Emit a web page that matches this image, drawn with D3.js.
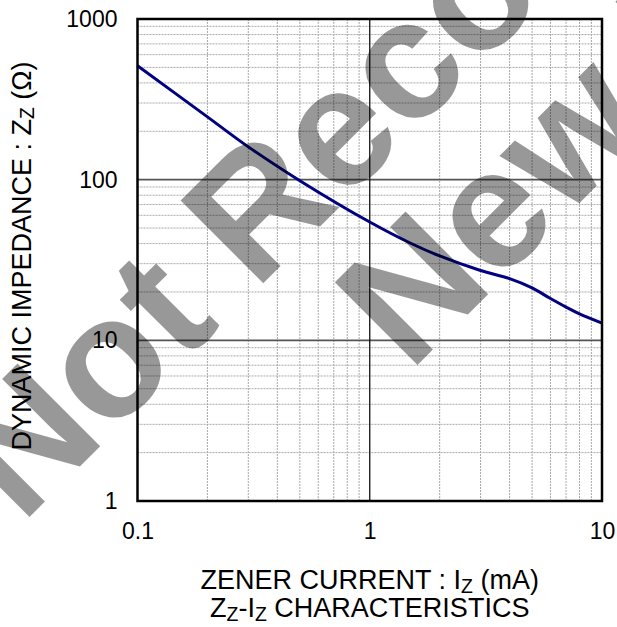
<!DOCTYPE html>
<html><head><meta charset="utf-8">
<script src="https://cdn.jsdelivr.net/npm/d3@7"></script>
<style>
body{margin:0;background:#fff}
svg{display:block}
text{font-family:"Liberation Sans",Arial,Helvetica,sans-serif}
</style>
</head><body>
<svg id="chart" width="617" height="627"></svg>
<script>
// ---- data ----
const currentMA    = [0.1, 0.2, 0.3, 0.5,  1,    1.5,  2,    3,    4,    5,    6,    7,    8,    10];
const impedanceOhm = [512, 246, 160, 98.6, 54.5, 40.2, 33.5, 27.2, 24.2, 21.2, 18.2, 16.1, 14.6, 12.8];
const xTickValues = [0.1, 1, 10];
const xTickLabels = ["0.1", "1", "10"];
const yTickValues = [1, 10, 100, 1000];
const yTickLabels = ["1", "10", "100", "1000"];
const watermarkLines = ["Not Recommended for", "New Designs"];

const svg = d3.select("#chart");
const L = 137.5, R = 602, T = 19, B = 501;
const x = d3.scaleLog().domain([0.1, 10]).range([L, R]);
const y = d3.scaleLog().domain([1, 1000]).range([B, T]);

const isDecade = v => Math.abs(Math.log10(v) - Math.round(Math.log10(v))) < 1e-9;

// minor grid
const g = svg.append("g");
g.selectAll(".vx").data(x.ticks().filter(v => !isDecade(v))).join("line")
  .attr("x1", d => x(d)).attr("x2", d => x(d)).attr("y1", T).attr("y2", B)
  .attr("stroke", "#a8a8a8").attr("stroke-width", 1).attr("stroke-dasharray", "2,1");
g.selectAll(".hy").data(y.ticks().filter(v => !isDecade(v))).join("line")
  .attr("y1", d => y(d)).attr("y2", d => y(d)).attr("x1", L).attr("x2", R)
  .attr("stroke", "#a8a8a8").attr("stroke-width", 1).attr("stroke-dasharray", "2,1");

// major grid
g.selectAll(".mh").data(yTickValues.filter(v => v > 1 && v < 1000)).join("line")
  .attr("y1", d => y(d)).attr("y2", d => y(d)).attr("x1", L).attr("x2", R)
  .attr("stroke", "#555").attr("stroke-width", 1.6);
g.selectAll(".mv").data(xTickValues.filter(v => v > 0.1 && v < 10)).join("line")
  .attr("x1", d => x(d)).attr("x2", d => x(d)).attr("y1", T).attr("y2", B)
  .attr("stroke", "#111").attr("stroke-width", 1.3);

// curve
const line = d3.line().x(d => x(d[0])).y(d => y(d[1])).curve(d3.curveCatmullRom.alpha(0.5));
svg.append("path").datum(currentMA.map((c, i) => [c, impedanceOhm[i]]))
  .attr("d", line).attr("fill", "none").attr("stroke", "#000080").attr("stroke-width", 3);

// frame
svg.append("rect").attr("x", L).attr("y", T).attr("width", R - L).attr("height", B - T)
  .attr("fill", "none").attr("stroke", "#000").attr("stroke-width", 2.5);

// axes
const yAxis = d3.axisLeft(y).tickValues(yTickValues).tickSize(0).tickPadding(20)
  .tickFormat((d, i) => yTickLabels[i]);
const ya = svg.append("g").attr("transform", `translate(${L},0)`).call(yAxis);
ya.select(".domain").remove();
ya.selectAll("text").attr("font-size", 23).attr("fill", "#000").attr("font-family", null);

const xAxis = d3.axisBottom(x).tickValues(xTickValues).tickSize(0).tickPadding(22)
  .tickFormat((d, i) => xTickLabels[i]);
const xa = svg.append("g").attr("transform", `translate(0,${B})`).call(xAxis);
xa.select(".domain").remove();
xa.selectAll("text").attr("font-size", 23).attr("fill", "#000").attr("font-family", null);

// titles
function subText(sel, parts) {
  parts.forEach(p => {
    const t = sel.append("tspan").text(p.t);
    if (p.sub) t.attr("font-size", "0.72em").attr("dy", "0.2em");
    if (p.up) t.attr("dy", "-0.144em");
  });
}
const xt1 = svg.append("text").attr("x", (L + R) / 2).attr("y", 589)
  .attr("text-anchor", "middle").attr("font-size", 27);
subText(xt1, [{t: "ZENER CURRENT : I"}, {t: "Z", sub: true}, {t: " (mA)", up: true}]);
const xt2 = svg.append("text").attr("x", (L + R) / 2).attr("y", 617)
  .attr("text-anchor", "middle").attr("font-size", 27);
subText(xt2, [{t: "Z"}, {t: "Z", sub: true}, {t: "-I", up: true}, {t: "Z", sub: true}, {t: " CHARACTERISTICS", up: true}]);

const yt = svg.append("text").attr("transform", `translate(30.5,${256}) rotate(-90)`)
  .attr("text-anchor", "middle").attr("font-size", 27);
subText(yt, [{t: "DYNAMIC IMPEDANCE : Z"}, {t: "Z", sub: true}, {t: " (Ω)", up: true}]);

// watermark
const wm = svg.append("g").attr("opacity", 0.4);
const wmPos = [[21.5, 525], [409.5, 373]];
watermarkLines.forEach((s, i) => {
  wm.append("text").attr("x", wmPos[i][0]).attr("y", wmPos[i][1])
    .attr("transform", `rotate(-45 ${wmPos[i][0]} ${wmPos[i][1]})`)
    .attr("font-size", 170).attr("font-weight", "bold").attr("fill", "#000").text(s);
});
</script>
</body></html>
